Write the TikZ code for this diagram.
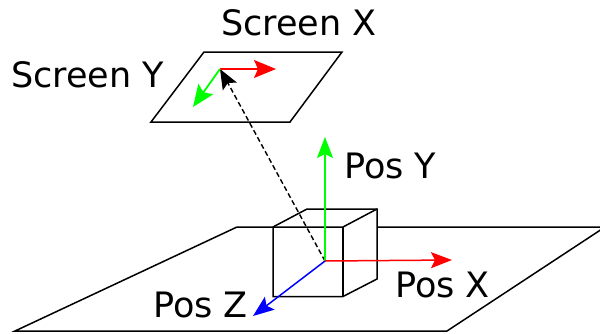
\documentclass[tikz,border=0pt]{standalone}
\usepackage{fontspec}
\setmainfont{DejaVu Sans}
\usetikzlibrary{arrows.meta}
\tikzset{
 x=1pt,y=-1pt,
 edge/.style={black,line width=1.5pt,line join=miter},
 axis/.style={line width=1.5pt,-{Stealth[length=21pt,width=16pt,inset=4pt]}},
 smallaxis/.style={line width=1.8pt,-{Stealth[length=22pt,width=18pt,inset=4pt]}},
 lbl/.style={font=\fontsize{35}{41}\selectfont,inner sep=0pt,text=black}
}
\definecolor{gr}{RGB}{0,255,0}
\begin{document}
\begin{tikzpicture}
\useasboundingbox (0,0) rectangle (600,333);
\clip (0,0) rectangle (600,333);
% ground plane
\draw[edge] (237,227) -- (605,227) -- (447,331) -- (15,331) -- cycle;
% cube
\draw[edge,fill=white] (273,227) -- (307,209) -- (377,209) -- (377,279) -- (343,296.5) -- (273,296.5) -- cycle;
\draw[edge] (273,227) -- (343,227) -- (377,209);
\draw[edge] (343,227) -- (343,296.5);
% screen
\draw[edge] (204,52) -- (342,52) -- (290,122) -- (151,122) -- cycle;
\coordinate (O) at (325,261);
\coordinate (S) at (220,69);
\coordinate (Py) at (325,137);
\coordinate (Px) at (452,260);
\coordinate (Pz) at (253,316);
\coordinate (Sx) at (276,69);
\coordinate (Sy) at (193,107);
\draw[black,line width=1.4pt,dash pattern=on 5pt off 3pt] (O) -- (229,85);
\draw[black,-{Stealth[length=20pt,width=16pt,inset=4pt]},line width=1.4pt] (229,85) -- (S);
\draw[axis,gr] (O) -- (Py);
\draw[axis,red] (O) -- (Px);
\draw[axis,blue] (O) -- (Pz);
\draw[smallaxis,red] (S) -- (Sx);
\draw[smallaxis,gr] (S) -- (Sy);
\node[lbl,anchor=base west] (tSX) at (221,35) {Screen X};
\node[lbl,anchor=base west] (tSY) at (11,87) {Screen Y};
\node[lbl,anchor=base west] (tPY) at (344,178) {Pos Y};
\node[lbl,anchor=base west] (tPX) at (395,297) {Pos X};
\node[lbl,anchor=base west] (tPZ) at (153,317) {Pos Z};
\end{tikzpicture}
\end{document}
